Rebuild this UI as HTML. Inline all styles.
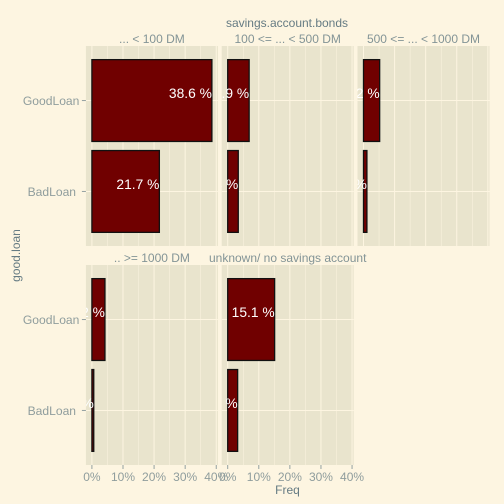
<!DOCTYPE html>
<html>
<head>
<meta charset="utf-8">
<style>
html,body{margin:0;padding:0;background:#fdf5e1;}
svg{display:block;font-family:"Liberation Sans",sans-serif;}
</style>
</head>
<body>
<svg id="chart" width="504" height="504" viewBox="0 0 504 504" xmlns="http://www.w3.org/2000/svg">
<rect x="0" y="0" width="504" height="504" fill="#fdf5e1"/>
<text x="287" y="27" text-anchor="middle" font-size="12" fill="#657b83">savings.account.bonds</text>
<text x="287.5" y="494" text-anchor="middle" font-size="12" fill="#657b83">Freq</text>
<text transform="translate(20,255.5) rotate(-90)" text-anchor="middle" font-size="12" fill="#657b83">good.loan</text>
</svg>
<script>
var facets = ['... < 100 DM', '100 <= ... < 500 DM', '500 <= ... < 1000 DM', '.. >= 1000 DM', 'unknown/ no savings account'];
var categories = ['GoodLoan', 'BadLoan '];
var goodLoanValues = [38.6, 6.9, 5.2, 4.2, 15.1];
var badLoanValues = [21.7, 3.4, 1.1, 0.6, 3.2];
var xTicks = [0, 10, 20, 30, 40];

var NS = 'http://www.w3.org/2000/svg';
var svg = document.getElementById('chart');
var colLefts = [85.9, 221.7, 357.5];
var rowTops = [46, 265];
var panelW = 132;
var panelH = 200;
var maxValue = Math.max.apply(null, goodLoanValues.concat(badLoanValues));

function xScale(v, left) {
  var pad = maxValue * 0.05;
  return left + (v + pad) / (maxValue + 2 * pad) * panelW;
}
function yCenter(i, top) {
  var unit = panelH / (categories.length + 0.2);
  return top + (0.6 + i) * unit;
}
function bandH() {
  return 0.9 * panelH / (categories.length + 0.2);
}
function mk(tag, attrs, parent) {
  var el = document.createElementNS(NS, tag);
  for (var k in attrs) el.setAttribute(k, attrs[k]);
  (parent || svg).appendChild(el);
  return el;
}

var defs = mk('defs', {});

facets.forEach(function (name, f) {
  var col = f % 3;
  var row = Math.floor(f / 3);
  var left = colLefts[col];
  var top = rowTops[row];
  var values = [goodLoanValues[f], badLoanValues[f]];

  var g = mk('g', {});
  
  

  var clip = mk('clipPath', { id: 'clip' + f }, defs);
  mk('rect', { x: left, y: top, width: panelW, height: panelH }, clip);

  var bg = mk('rect', { x: left, y: top, width: panelW, height: panelH, fill: '#e9e4cd' }, g);
  
  

  var inner = mk('g', { 'clip-path': 'url(#clip' + f + ')' }, g);

  xTicks.forEach(function (t) {
    var mv = t + (xTicks[1] - xTicks[0]) / 2;
    var mx = xScale(mv, left);
    if (mx < left + panelW) {
      var minor = mk('line', { x1: mx, x2: mx, y1: top, y2: top + panelH, stroke: '#fdf5e1', 'stroke-width': 0.5 }, inner);
      
      
    }
    var px = xScale(t, left);
    var major = mk('line', { x1: px, x2: px, y1: top, y2: top + panelH, stroke: '#fdf5e1', 'stroke-width': 1 }, inner);
    
    
  });

  categories.forEach(function (c, i) {
    var cy = yCenter(i, top);
    var hl = mk('line', { x1: left, x2: left + panelW, y1: cy, y2: cy, stroke: '#fdf5e1', 'stroke-width': 1 }, inner);
    
    
  });

  categories.forEach(function (c, i) {
    var cy = yCenter(i, top);
    var x0 = xScale(0, left);
    var x1 = xScale(values[i], left);
    var bar = mk('rect', { x: x0, y: cy - bandH() / 2, width: x1 - x0, height: bandH(), fill: '#700000', stroke: '#111', 'stroke-width': 1.3 }, inner);
    
    
  });

  categories.forEach(function (c, i) {
    var cy = yCenter(i, top);
    var label = mk('text', { x: xScale(values[i], left), y: cy - 2.3, 'text-anchor': 'end', 'font-size': 13.8, fill: '#ffffff' }, inner);
    
    
    label.textContent = values[i].toFixed(1) + ' %';
  });

  var strip = mk('text', { x: left + panelW / 2, y: top - 3, 'text-anchor': 'middle', 'font-size': 12, fill: '#839496' });
  
  
  strip.textContent = name;
});

rowTops.forEach(function (top) {
  categories.forEach(function (c, i) {
    var cy = yCenter(i, top);
    var tick = mk('line', { x1: colLefts[0] - 4, x2: colLefts[0], y1: cy, y2: cy, stroke: '#93a1a1', 'stroke-width': 1 });
    
    
    var lab = mk('text', { x: colLefts[0] - 6.5, y: cy + 4.5, 'text-anchor': 'end', 'font-size': 12.1, fill: '#8f9d9d' });
    
    
    lab.style.whiteSpace = 'pre';
    lab.textContent = c;
  });
});

[colLefts[0], colLefts[1]].forEach(function (left) {
  var base = rowTops[1] + panelH;
  xTicks.forEach(function (t) {
    var px = xScale(t, left);
    var tick = mk('line', { x1: px, x2: px, y1: base, y2: base + 4, stroke: '#93a1a1', 'stroke-width': 1 });
    
    
    var lab = mk('text', { x: px, y: base + 16, 'text-anchor': 'middle', 'font-size': 12, fill: '#8f9d9d' });
    
    
    lab.textContent = t + '%';
  });
});
</script>
</body>
</html>
